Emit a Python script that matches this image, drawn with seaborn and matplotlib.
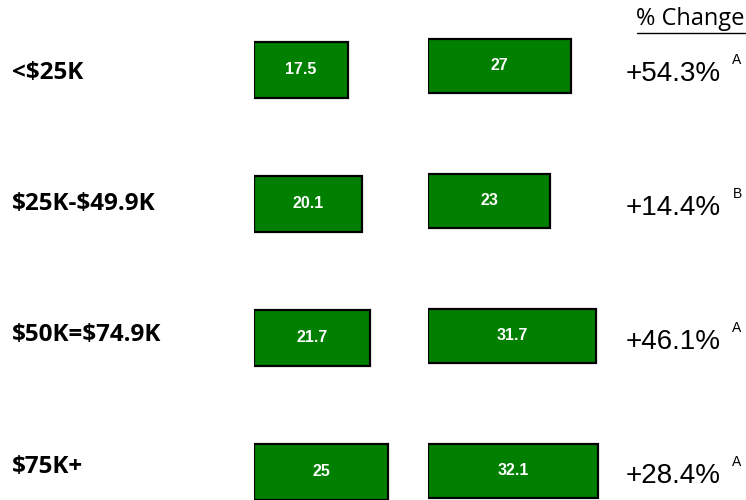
import matplotlib
matplotlib.use("Agg")
import matplotlib.pyplot as plt
import matplotlib.transforms as mtransforms
from matplotlib.lines import Line2D
import seaborn as sns
import pandas as pd

income = ["<$25K", "$25K-$49.9K", "$50K=$74.9K", "$75K+"]
before = [17.5, 20.1, 21.7, 25]
after = [27, 23, 31.7, 32.1]
pct_change = ["+54.3%", "+14.4%", "+46.1%", "+28.4%"]
sig = ["A", "B", "A", "A"]

df = pd.DataFrame({"income": income, "before": before, "after": after})

sns.set_theme(style="white")
plt.rcParams["text.parse_math"] = False
W, H = 746, 500
fig = plt.figure(figsize=(W / 100, H / 100), dpi=100)

green = "#007f00"

def column(left_px, width_px, px_per_unit, first_px, step_px, bar_px, col):
    ax = fig.add_axes([left_px / W, 0, width_px / W, 1])
    sns.barplot(data=df, x=col, y="income", orient="h", ax=ax, color=green,
                width=bar_px / step_px, edgecolor="black", linewidth=1.6,
                saturation=1)
    ax.set_xlim(0, width_px / px_per_unit)
    ax.set_ylim((H - first_px) / step_px, -first_px / step_px)
    ax.bar_label(ax.containers[0], fmt="%g", label_type="center",
                 color="white", fontsize=11.5, fontweight="bold",
                 family="Liberation Sans", padding=0)
    ax.axis("off")
    return ax

ax1 = column(254, 160, 5.36, 70, 134, 56, "before")
ax2 = column(428, 190, 5.31, 66, 135, 54, "after")

tr = mtransforms.blended_transform_factory(fig.transFigure, ax1.transData)
for i, lab in enumerate(income):
    ax1.text(12 / W, i + 0.02 - 0.02 * i, lab, transform=tr, ha="left",
             va="center", fontsize=17.5, fontweight="bold", family="Open Sans",
             color="black")
    ax1.text(721 / W, i + 0.03, pct_change[i], transform=tr, ha="right",
             va="center", fontsize=20, family="Liberation Sans", color="black")
    ax1.annotate(sig[i], xy=(737 / W, i), xycoords=tr, xytext=(0, 7),
                 textcoords="offset points", ha="center", va="center",
                 fontsize=10, family="Liberation Sans", color="black")

hdr = fig.text(745 / W, 1 - 19 / H, "% Change", ha="right", va="center",
               fontsize=17, family="Open Sans", color="black")
fig.canvas.draw()
bb = hdr.get_window_extent().transformed(fig.transFigure.inverted())
fig.add_artist(Line2D([bb.x0, bb.x1], [1 - 33 / H] * 2, color="black",
                      linewidth=1, transform=fig.transFigure))

fig.savefig("out.png", dpi=100)
